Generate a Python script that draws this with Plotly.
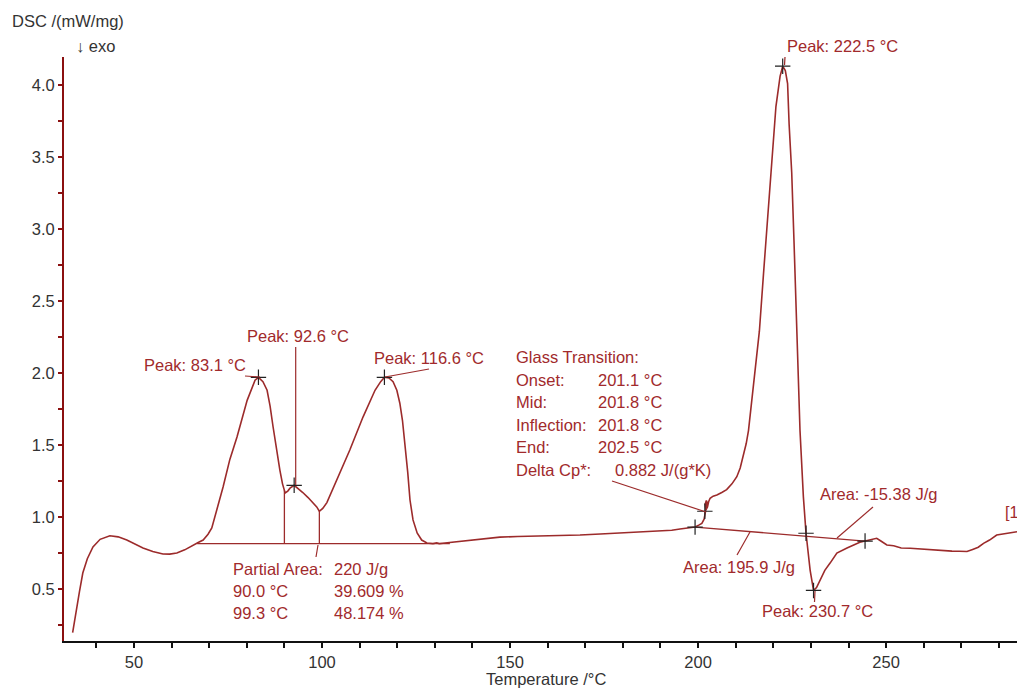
import numpy as np
import plotly.graph_objects as go

# ---------------- data ----------------
temp = [33.7, 34.3, 34.8, 35.5, 36.4, 37.6, 39.1, 41.0, 43.6, 45.8, 48.1, 52.4, 55.0, 57.7, 59.5,
        61.4, 63.5, 65.7, 67.2, 68.4, 69.7, 70.7, 71.4, 72.1, 73.7, 75.5, 77.4, 80.1, 82.2, 83.1,
        84.3, 85.4, 86.2, 87.0, 88.0, 88.8, 89.5, 90.2, 90.9, 91.5, 92.6, 93.6, 94.9, 96.3, 97.6,
        98.6, 99.3, 100.2, 101.3, 102.5, 104.0, 107.4, 110.9, 114.1, 115.6, 116.6, 117.8, 118.9,
        119.9, 120.7, 121.4, 122.1, 122.8, 123.4, 124.2, 125.3, 126.5, 127.9, 129.5, 130.5, 131.2,
        132.7, 136.0, 139.4, 143.0, 147.3, 152.0, 158.0, 163.0, 168.6, 174.0, 179.3, 184.5, 189.9,
        193.0, 195.2, 197.9, 199.2, 200.3, 201.0, 201.6, 201.9, 202.2, 202.4, 202.2, 201.9, 202.1,
        202.5, 202.8, 203.2, 204.0, 205.0, 206.3, 207.6, 209.0, 210.3, 211.2, 212.0, 212.8, 213.4,
        213.9, 214.3, 215.0, 215.6, 216.3, 217.4, 218.7, 219.6, 220.7, 221.8, 222.5, 223.2, 223.8,
        224.2, 224.9, 225.5, 226.2, 227.1, 228.0, 228.7, 229.8, 230.3, 230.7, 231.5, 232.4, 233.7,
        235.1, 236.9, 239.6, 241.5, 243.0, 244.4, 245.5, 246.5, 247.5, 248.5, 250.2, 252.0, 254.0,
        256.4, 258.0, 260.0, 262.5, 265.2, 267.5, 269.5, 271.5, 273.0, 274.5, 275.9, 277.5, 279.4,
        281.0, 283.0, 284.8]
dsc = [0.197, 0.30, 0.377, 0.48, 0.611, 0.71, 0.792, 0.845, 0.870, 0.862, 0.840, 0.785, 0.76, 0.743, 0.742,
       0.750, 0.772, 0.806, 0.825, 0.840, 0.880, 0.924, 0.99, 1.069, 1.208, 1.40, 1.556, 1.81, 1.95, 1.97,
       1.94, 1.88, 1.77, 1.625, 1.45, 1.326, 1.23, 1.167, 1.18, 1.20, 1.22, 1.20, 1.17, 1.135, 1.10,
       1.07, 1.04, 1.06, 1.10, 1.17, 1.26, 1.465, 1.694, 1.88, 1.94, 1.97, 1.965, 1.94,
       1.88, 1.79, 1.67, 1.51, 1.31, 1.118, 0.98, 0.889, 0.84, 0.82, 0.815, 0.82, 0.815,
       0.82, 0.83, 0.84, 0.852, 0.86, 0.865, 0.868, 0.872, 0.875, 0.882, 0.889, 0.895, 0.90,
       0.908, 0.917, 0.925, 0.93, 0.945, 0.956, 0.985, 1.02, 1.07, 1.10, 1.115, 1.09, 1.05,
       1.07, 1.106, 1.13, 1.145, 1.153, 1.17, 1.19, 1.23, 1.28, 1.34, 1.42, 1.51, 1.60,
       1.72, 1.835, 2.00, 2.16, 2.29, 2.69, 3.15, 3.50, 3.85, 4.06, 4.13, 4.10, 4.01,
       3.73, 3.39, 2.92, 2.29, 1.60, 1.14, 0.887, 0.63, 0.54, 0.49, 0.51, 0.56, 0.63,
       0.68, 0.75, 0.785, 0.81, 0.825, 0.833, 0.84, 0.845, 0.852, 0.835, 0.806, 0.80, 0.785,
       0.783, 0.78, 0.772, 0.77, 0.766, 0.763, 0.762, 0.76, 0.775, 0.79, 0.817, 0.84, 0.875,
       0.882, 0.89, 0.898]

# evaluation points (crosses)
mark_T = [83.1, 92.6, 116.6, 199.2, 201.8, 222.5, 228.7, 230.7, 244.4]
mark_v = [1.97, 1.22, 1.97, 0.93, 1.04, 4.13, 0.887, 0.49, 0.833]

# baselines
base1_T = [66.8, 134.0]
base1_v = [0.815, 0.815]
base2_T = [199.2, 244.4]
base2_v = [0.93, 0.833]
partial_T = [90.0, 99.3]

x_ticks = [50, 100, 150, 200, 250]
y_ticks = [0.5, 1.0, 1.5, 2.0, 2.5, 3.0, 3.5, 4.0]

# ---------------- styling / layout ----------------
CURVE = "#9c2b2b"
TXT = "#a12a2c"
FONT = "Liberation Sans, Arial, sans-serif"
W, H = 1017, 689
ML, MR, MT, MB = 64, 0, 57, 48
PW, PH = W - ML - MR, H - MT - MB
XR = [31.4, 284.8]
YR = [0.139, 4.194]
AS = 16.5    # annotation font size
TS = 16.5    # axis text size


def xp(px):
    return (px - ML) / PW


def yp(py):
    return (H - MB - py) / PH


fig = go.Figure()

# baselines & partial area lines
fig.add_trace(go.Scatter(x=base1_T, y=base1_v, mode="lines",
                         line=dict(color=CURVE, width=1.3), hoverinfo="skip"))
for t in partial_T:
    top = float(np.interp(t, temp[:90], dsc[:90]))
    fig.add_trace(go.Scatter(x=[t, t], y=[base1_v[0], top], mode="lines",
                             line=dict(color=CURVE, width=1.3), hoverinfo="skip"))
fig.add_trace(go.Scatter(x=base2_T, y=base2_v, mode="lines",
                         line=dict(color=CURVE, width=1.3), hoverinfo="skip"))

# main curve
fig.add_trace(go.Scatter(x=temp, y=dsc, mode="lines",
                         line=dict(color=CURVE, width=1.6), hoverinfo="skip"))

# crosses
fig.add_trace(go.Scatter(x=mark_T, y=mark_v, mode="markers",
                         marker=dict(symbol="cross-thin", size=11,
                                     line=dict(color="#222222", width=1.2)),
                         hoverinfo="skip"))

# leader lines (pixel positions)
leaders = [
    (245, 376, 260, 377),      # peak 83.1
    (295.7, 347, 295.7, 485),  # peak 92.6
    (385, 377, 429, 369),      # peak 116.6
    (612, 481, 706, 512),      # glass transition
    (785, 57, 784.5, 65),      # peak 222.5
    (815, 591, 814.5, 602),    # peak 230.7
    (737, 555, 750, 532),      # area 195.9
    (873, 507, 837, 538),      # area -15.38
    (318, 545, 316, 557),      # partial area
]
shapes = []
for x0, y0, x1, y1 in leaders:
    shapes.append(dict(type="line", xref="paper", yref="paper",
                       x0=xp(x0), y0=yp(y0), x1=xp(x1), y1=yp(y1),
                       line=dict(color=CURVE, width=1.2)))

annos = []


def txt(text, px, py, color=TXT, anchor="left", size=AS):
    annos.append(dict(text=text, x=xp(px), y=yp(py), xref="paper", yref="paper",
                      xanchor=anchor, yanchor="middle", showarrow=False,
                      font=dict(family=FONT, size=size, color=color)))


txt("Peak: 83.1 °C", 142, 365)
txt("Peak: 92.6 °C", 245, 336)
txt("Peak: 116.6 °C", 372, 358)
txt("Peak: 222.5 °C", 785, 46)
txt("Peak: 230.7 °C", 760, 611)
txt("Area: 195.9 J/g", 681, 567)
txt("Area: -15.38 J/g", 818, 494)

gt_rows = [("Glass Transition:", None), ("Onset:", "201.1 °C"), ("Mid:", "201.8 °C"),
           ("Inflection:", "201.8 °C"), ("End:", "202.5 °C"), ("Delta Cp*:", "0.882 J/(g*K)")]
for i, (lab, val) in enumerate(gt_rows):
    y = 357 + i * 22.5
    txt(lab, 514, y)
    if val:
        txt(val, 613 if lab.startswith("Delta") else 596, y)

pa_rows = [("Partial Area:", "220 J/g"), ("90.0 °C", "39.609 %"), ("99.3 °C", "48.174 %")]
for i, (lab, val) in enumerate(pa_rows):
    y = 569 + i * 22
    txt(lab, 231, y)
    txt(val, 332, y)

txt("[1", 1003, 512, size=16)
txt("DSC /(mW/mg)", 10, 21, color="#333333", size=TS)
txt("↓ exo", 74, 46, color="#333333", size=TS)
txt("Temperature /°C", 546, 679, color="#333333", anchor="center", size=TS)

fig.update_layout(
    width=W, height=H,
    margin=dict(l=ML, r=MR, t=MT, b=MB),
    paper_bgcolor="white", plot_bgcolor="white",
    showlegend=False,
    font=dict(family=FONT, size=TS, color="#333333"),
    shapes=shapes, annotations=annos,
    xaxis=dict(range=XR, tickvals=x_ticks, ticktext=[str(v) for v in x_ticks],
               showgrid=False, zeroline=False, showline=True, linecolor="#111111", linewidth=2,
               ticks="outside", ticklen=5, tickwidth=1.5, tickcolor="#111111",
               minor=dict(dtick=10, tick0=0, ticks="outside", ticklen=5, tickwidth=1.5,
                          tickcolor="#111111"),
               tickfont=dict(family=FONT, size=TS, color="#333333")),
    yaxis=dict(range=YR, tickvals=y_ticks, ticktext=[f"{v:.1f}" for v in y_ticks],
               showgrid=False, zeroline=False, showline=True, linecolor="#8b1010", linewidth=2,
               ticks="outside", ticklen=4, tickwidth=1.5, tickcolor="#8b1010",
               minor=dict(dtick=0.25, tick0=0.25, ticks="outside", ticklen=4, tickwidth=1.5,
                          tickcolor="#8b1010"),
               tickfont=dict(family=FONT, size=TS, color="#333333")),
)

fig.write_html("out.html", config={"displayModeBar": False},
               post_script="document.body.style.margin='0px';document.body.style.overflow='hidden';")
